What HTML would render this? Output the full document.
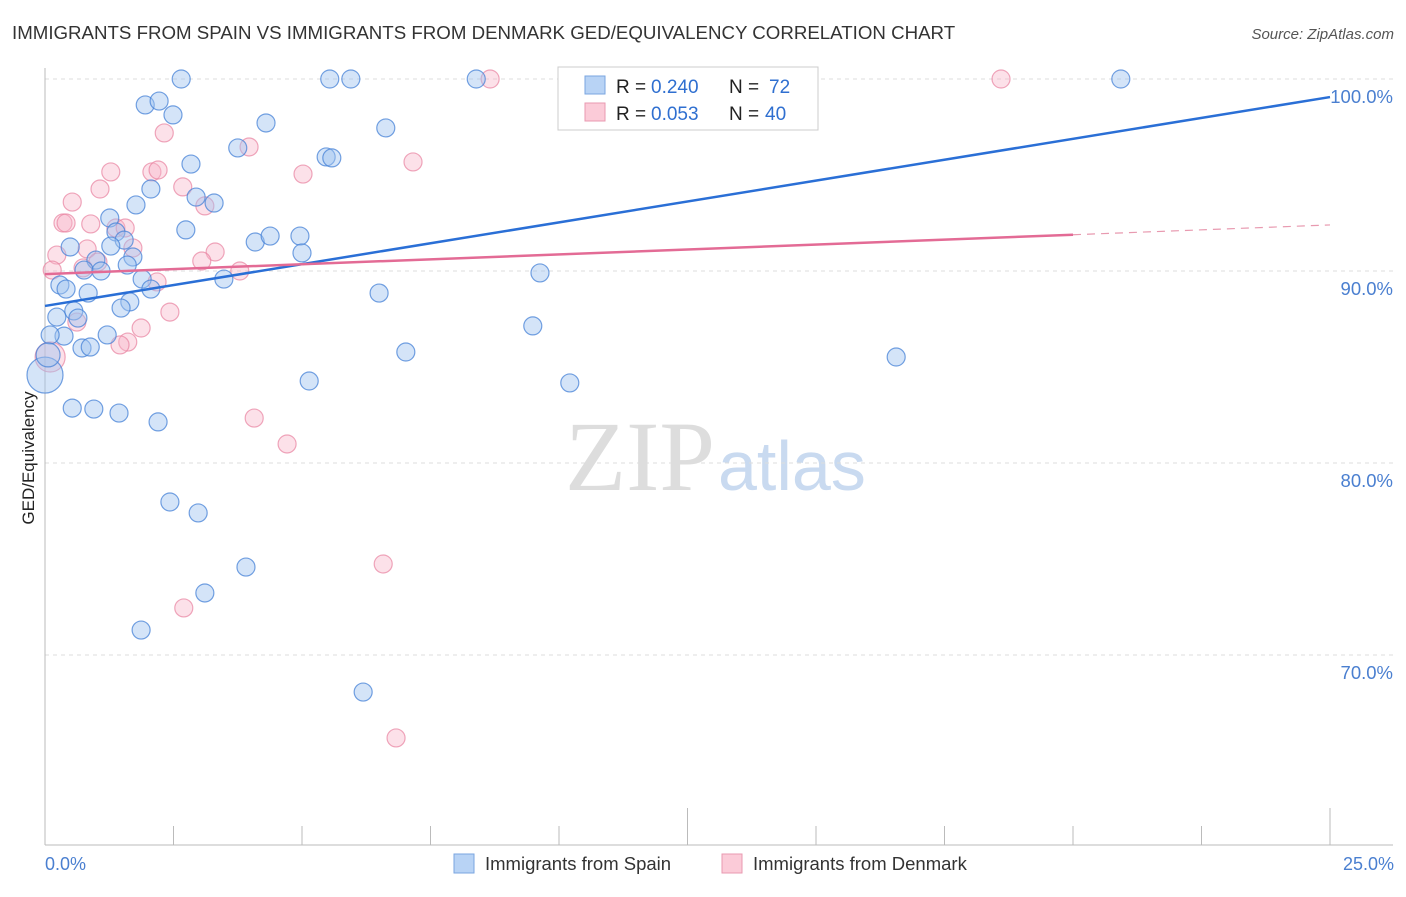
<!DOCTYPE html>
<html><head><meta charset="utf-8"><style>
body{margin:0;background:#fff;font-family:"Liberation Sans",sans-serif}
</style></head><body>
<svg width="1406" height="892" xmlns="http://www.w3.org/2000/svg" id="c">
<text x="12" y="39" font-size="18.7" fill="#333">IMMIGRANTS FROM SPAIN VS IMMIGRANTS FROM DENMARK GED/EQUIVALENCY CORRELATION CHART</text>
<text x="1394" y="39" font-size="15" fill="#555" text-anchor="end" font-style="italic">Source: ZipAtlas.com</text>
<text x="715" y="490" font-size="100" fill="#ddd" text-anchor="end" font-family="Liberation Serif,serif">ZIP</text>
<text x="718" y="490" font-size="70" fill="#c9daf0">atlas</text>
<g id="grid"></g>
<line x1="45" y1="68" x2="45" y2="845" stroke="#bbb"/>
<line x1="45" y1="845" x2="1393" y2="845" stroke="#bbb"/>
<g id="ticks"></g>
<text x="34" y="458" font-size="17" fill="#222" text-anchor="middle" transform="rotate(-90 34 458)">GED/Equivalency</text>
<text x="45" y="870" font-size="18" fill="#4a7fd0">0.0%</text>
<text x="1394" y="870" font-size="18" fill="#4a7fd0" text-anchor="end">25.0%</text>
<g id="pts"></g>
<g id="lines"></g>
<g>
<rect x="558" y="67" width="260" height="63" fill="#fff" stroke="#ccc"/>
<rect x="585" y="76" width="20" height="18" fill="#b8d3f5" stroke="#7aa6e0"/>
<rect x="585" y="103" width="20" height="18" fill="#fbcbd8" stroke="#e89ab0"/>
<text x="616" y="93" font-size="19" fill="#222">R =</text><text x="651" y="93" font-size="19" fill="#2f6fd0">0.240</text>
<text x="729" y="93" font-size="19" fill="#222">N =</text><text x="769" y="93" font-size="19" fill="#2f6fd0">72</text>
<text x="616" y="120" font-size="19" fill="#222">R =</text><text x="651" y="120" font-size="19" fill="#2f6fd0">0.053</text>
<text x="729" y="120" font-size="19" fill="#222">N =</text><text x="765" y="120" font-size="19" fill="#2f6fd0">40</text>
</g>
<g>
<rect x="454" y="854" width="20" height="19" fill="#b8d3f5" stroke="#7aa6e0"/>
<text x="485" y="870" font-size="18.5" fill="#333">Immigrants from Spain</text>
<rect x="722" y="854" width="20" height="19" fill="#fbcbd8" stroke="#e89ab0"/>
<text x="753" y="870" font-size="18.5" fill="#333">Immigrants from Denmark</text>
</g>
</svg>
<script>
const yTicks=[100,90,80,70];
const xTicks=[0,2.5,5,7.5,10,12.5,15,17.5,20,22.5,25];
const spainX=[2.65,5.54,5.95,8.39,11.96,20.93,11.17,1.95,2.22,2.49,4.30,6.63,3.75,5.47,5.58,2.84,2.06,2.94,3.29,1.77,1.26,2.74,1.38,1.54,1.28,0.49,4.09,4.38,4.96,5.00,1.71,0.99,1.60,0.76,1.09,1.89,3.48,9.63,0.29,0.41,0.84,2.06,1.65,6.50,1.48,0.56,0.23,0.64,0.37,0.10,1.21,0.72,0.88,7.02,9.49,16.56,5.14,10.21,0,0.53,0.95,1.44,2.20,2.43,2.98,3.91,3.11,1.87,6.19,0.06];
const spainY=[100,100,100,100,100,100,100,98.65,98.85,98.13,97.71,97.45,96.41,95.94,95.89,95.57,94.27,93.85,93.54,93.44,92.76,92.14,92.03,91.61,91.30,91.25,91.51,91.82,91.82,90.94,90.73,90.57,90.31,90.05,90.0,89.58,89.58,89.9,89.27,89.06,88.85,89.06,88.39,88.85,88.07,87.92,87.6,87.55,86.61,86.67,86.67,85.99,86.04,85.78,87.14,85.52,84.27,84.17,84.58,82.86,82.81,82.6,82.14,77.97,77.4,74.58,73.23,71.3,68.07,85.63];
const denX=[8.66,18.6,2.32,3.97,7.16,1.28,2.08,2.2,1.07,2.68,5.02,3.11,0.53,0.35,0.41,0.89,1.38,1.56,1.71,0.82,0.23,3.31,3.05,0.14,0.74,1.03,3.79,2.18,2.43,0.62,1.87,1.61,1.46,4.07,4.71,6.58,2.7,6.83,0.1];
const denY=[100,100,97.19,96.46,95.68,95.16,95.16,95.26,94.27,94.38,95.05,93.39,93.59,92.5,92.5,92.45,92.24,92.24,91.2,91.15,90.83,90.99,90.52,90.05,90.16,90.47,90.0,89.43,87.86,87.34,87.03,86.3,86.15,82.34,80.99,74.74,72.45,65.68,85.52];
const spainR=Array(spainX.length).fill(9);spainR[58]=18;spainR[69]=12;
const denR=Array(denX.length).fill(9);denR[38]=15;
const blueTrend=[88.18,99.06], pinkTrend=[89.84,92.40], pinkSolidEnd=20;
const NS='http://www.w3.org/2000/svg';
const X=v=>45+v/25*1285, Y=v=>79+(100-v)*19.2;
function mk(t,a,p){const e=document.createElementNS(NS,t);for(const k in a)e.setAttribute(k,a[k]);document.getElementById(p).appendChild(e);return e;}
yTicks.forEach((t,i)=>{const l=mk('line',{x1:45,x2:1393,y1:Y(t),y2:Y(t),stroke:'#ddd','stroke-dasharray':'4,4'},'grid');


const tx=mk('text',{x:1393,y:Y(t)+24,'font-size':18.5,fill:'#4a7fd0','text-anchor':'end'},'grid');tx.textContent=t.toFixed(1)+'%';

});
xTicks.forEach((t,i)=>{const big=(t===12.5||t===25);const l=mk('line',{x1:X(t),x2:X(t),y1:big?808:826,y2:845,stroke:'#bbb'},'ticks');

});
function pts(xs,ys,rs,fill,stroke,name){xs.forEach((x,i)=>{const c=mk('circle',{cx:X(x),cy:Y(ys[i]),r:rs[i],fill:fill,stroke:stroke,'stroke-width':1.2},'pts');

});}
pts(denX,denY,denR,'rgba(248,180,200,0.4)','rgba(232,130,160,0.7)','denmark-point');
pts(spainX,spainY,spainR,'rgba(160,195,240,0.45)','rgba(70,130,215,0.75)','spain-point');
let l=mk('line',{x1:X(0),y1:Y(blueTrend[0]),x2:X(25),y2:Y(blueTrend[1]),stroke:'#2a6fd6','stroke-width':2.5},'lines');


const py=v=>pinkTrend[0]+(pinkTrend[1]-pinkTrend[0])*v/25;
l=mk('line',{x1:X(0),y1:Y(py(0)),x2:X(pinkSolidEnd),y2:Y(py(pinkSolidEnd)),stroke:'#e36b95','stroke-width':2.5},'lines');


l=mk('line',{x1:X(pinkSolidEnd),y1:Y(py(pinkSolidEnd)),x2:X(25),y2:Y(py(25)),stroke:'#e89ab0','stroke-width':1.2,'stroke-dasharray':'8,6'},'lines');


</script>
</body></html>
